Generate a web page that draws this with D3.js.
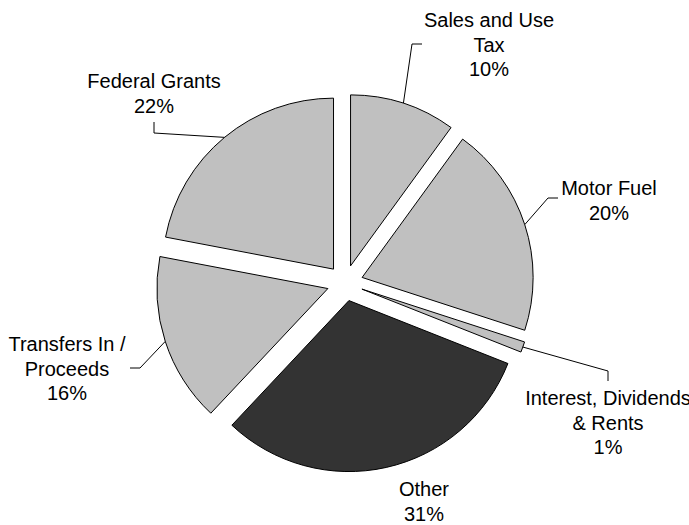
<!DOCTYPE html>
<html>
<head>
<meta charset="utf-8">
<script src="https://cdn.jsdelivr.net/npm/d3@7"></script>
<style>
  html, body { margin: 0; padding: 0; background: #fff; }
  svg { display: block; }
  text { font-family: "Liberation Sans", Arial, sans-serif; font-size: 20px; fill: #000; }
</style>
</head>
<body>
<svg id="chart" width="689" height="525"></svg>
<script>
// Revenue sources, clockwise from 12 o'clock
const categories = ["Sales and Use Tax", "Motor Fuel", "Interest, Dividends & Rents", "Other", "Transfers In / Proceeds", "Federal Grants"];
const shares = [10, 20, 1, 31, 16, 22];
const labelLines = [
  ["Sales and Use", "Tax"],
  ["Motor Fuel"],
  ["Interest, Dividends", "& Rents"],
  ["Other"],
  ["Transfers In /", "Proceeds"],
  ["Federal Grants"]
];

// Layout
const cx = 345, cy = 283, radius = 171, explode = 18, lineH = 24.5;
const fills = { "Other": "#333333" };
const defaultFill = "#c0c0c0";
// label anchor (centre x, first baseline) and leader elbow/end points
const labelLayout = {
  "Sales and Use Tax":           { x: 489, y: 27,  leader: [[412, 44], [422, 44]] },
  "Motor Fuel":                  { x: 609, y: 195, leader: [[548, 198], [558, 198]] },
  "Interest, Dividends & Rents": { x: 608, y: 405, leader: [[608, 371], [608, 381]] },
  "Other":                       { x: 424, y: 496, leader: null },
  "Transfers In / Proceeds":     { x: 67,  y: 351, leader: [[140, 368], [130, 368]] },
  "Federal Grants":              { x: 154, y: 88,  leader: [[154, 133], [154, 122]] }
};

const data = categories.map((c, i) => ({ name: c, value: shares[i], lines: labelLines[i] }));

const svg = d3.select("#chart");
const pie = d3.pie().value(d => d.value).sort(null).startAngle(0).endAngle(2 * Math.PI);
const arc = d3.arc().innerRadius(0).outerRadius(radius);
const arcs = pie(data);

function offset(a, r) {
  const mid = (a.startAngle + a.endAngle) / 2;
  return [Math.sin(mid) * r, -Math.cos(mid) * r];
}

const g = svg.append("g").attr("transform", `translate(${cx},${cy})`);

g.selectAll("path.slice")
  .data(arcs)
  .join("path")
  .attr("class", "slice")
  .attr("transform", d => { const [dx, dy] = offset(d, explode); return `translate(${dx},${dy})`; })
  .attr("d", arc)
  .attr("fill", d => fills[d.data.name] || defaultFill)
  .attr("stroke", "#000")
  .attr("stroke-width", 1)
  .attr("stroke-linejoin", "miter");

// Leader lines from slice edge to label
const line = d3.line();
arcs.forEach(a => {
  const lay = labelLayout[a.data.name];
  if (!lay.leader) return;
  const [ex, ey] = offset(a, explode);
  const [ox, oy] = offset(a, radius);
  const start = [cx + ex + ox, cy + ey + oy];
  svg.append("path")
    .attr("d", line([start, ...lay.leader]))
    .attr("fill", "none")
    .attr("stroke", "#000")
    .attr("stroke-width", 1);
});

// Labels
arcs.forEach(a => {
  const lay = labelLayout[a.data.name];
  const t = svg.append("text").attr("text-anchor", "middle");
  const rows = [...a.data.lines, `${a.data.value}%`];
  rows.forEach((r, i) => {
    t.append("tspan").attr("x", lay.x).attr("y", lay.y + i * lineH).text(r);
  });
});
</script>
</body>
</html>
